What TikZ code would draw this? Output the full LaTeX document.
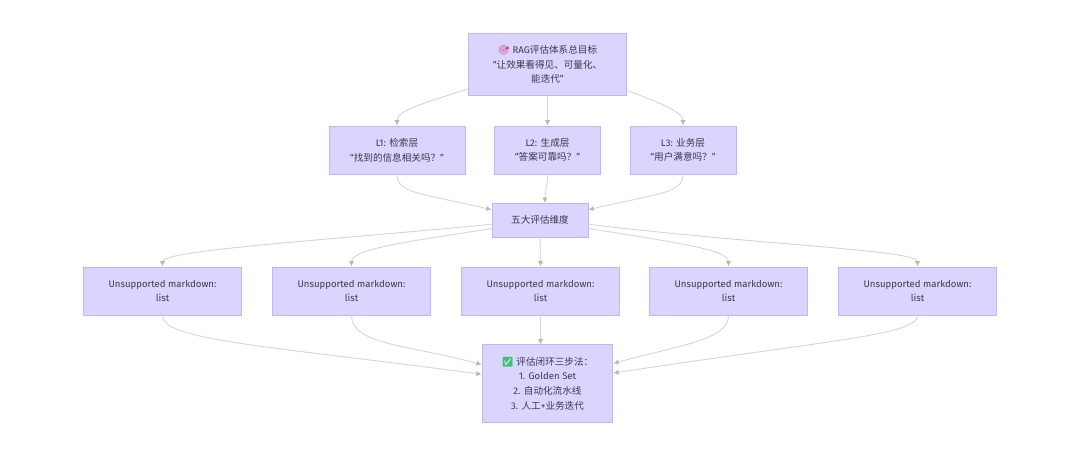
\documentclass[tikz,border=0pt]{standalone}
\usepackage{fontspec}
\setmainfont{Fira Sans}
\newfontfamily\cjk{Noto Sans CJK SC}
\newfontfamily\emoji{Noto Emoji}
\usetikzlibrary{arrows.meta}
\definecolor{boxfill}{HTML}{D9D5FF}
\definecolor{boxline}{HTML}{BDB5FF}
\definecolor{boxtext}{HTML}{3A3A48}
\definecolor{edgeline}{HTML}{D6D6D6}
\definecolor{edgetip}{HTML}{B8B8B8}
\tikzset{
	flowbox/.style={draw=boxline, fill=boxfill, line width=0.7pt, inner sep=0pt, align=center,
		text=boxtext, font=\fontsize{7.2}{11}\selectfont},
	flowedge/.style={draw=edgeline, line width=0.7pt, -{Latex[length=4pt,width=4pt,color=edgetip]}},
}

\begin{document}
\begin{tikzpicture}[x=0.75pt, y=-0.75pt]
			%%%%% START %%%%%
			\useasboundingbox (0, 0) rectangle (1080, 455);
			
			\node[flowbox, minimum width=119pt, minimum height=47pt] (goal) at (547.5, 64.5) {{\emoji\color[HTML]{D6336C}🎯} RAG{\cjk 评估体系总目标}\\“{\cjk 让效果看得见、可量化、}\\{\cjk 能迭代}”};
			
			\node[flowbox, minimum width=102pt, minimum height=36pt] (retrieval) at (397, 150) {L1: {\cjk 检索层}\\“{\cjk 找到的信息相关吗？}”};
			\node[flowbox, minimum width=80pt, minimum height=36pt] (generation) at (547.5, 150) {L2: {\cjk 生成层}\\“{\cjk 答案可靠吗？}”};
			\node[flowbox, minimum width=79.5pt, minimum height=36pt] (business) at (683, 150) {L3: {\cjk 业务层}\\“{\cjk 用户满意吗？}”};
			
			\node[flowbox, minimum width=72pt, minimum height=25.5pt] (dimensions) at (540, 220) {\cjk 五大评估维度};
			
			\node[flowbox, minimum width=119pt, minimum height=36pt] (dimA) at (162.5, 291) {Unsupported markdown:\\list};
			\node[flowbox, minimum width=119pt, minimum height=36pt] (dimB) at (351.5, 291) {Unsupported markdown:\\list};
			\node[flowbox, minimum width=119pt, minimum height=36pt] (dimC) at (540.5, 291) {Unsupported markdown:\\list};
			\node[flowbox, minimum width=119pt, minimum height=36pt] (dimD) at (728.5, 291) {Unsupported markdown:\\list};
			\node[flowbox, minimum width=119pt, minimum height=36pt] (dimE) at (917.5, 291) {Unsupported markdown:\\list};
			
			\node[flowbox, minimum width=98pt, minimum height=58pt] (loop) at (547.5, 383.5) {{\emoji\color[HTML]{3CC46A}✅} {\cjk 评估闭环三步法：}\\1. Golden Set\\2. {\cjk 自动化流水线}\\3. {\cjk 人工}+{\cjk 业务迭代}};
			
			\draw[flowedge] (goal.197) .. controls (425, 103) and (397, 110) .. (retrieval.north);
			\draw[flowedge] (goal.south) -- (goal.south |- generation.north);
			\draw[flowedge] (goal.-18) .. controls (660, 103) and (683, 112) .. (business.north);
			
			\draw[flowedge] (retrieval.south) .. controls (397, 193) and (420, 193) .. (dimensions.168);
			\draw[flowedge] (generation.south) .. controls (547.5, 186) and (545, 192) .. (545, 203);
			\draw[flowedge] (business.south) .. controls (683, 193) and (660, 193) .. (dimensions.12);
			
			\draw[flowedge] (dimensions.185) .. controls (330, 240) and (162.5, 250) .. (dimA.north);
			\draw[flowedge] (dimensions.190) .. controls (420, 240) and (351.5, 248) .. (dimB.north);
			\draw[flowedge] (dimensions.south) -- (dimC.north);
			\draw[flowedge] (dimensions.-10) .. controls (680, 243) and (728.5, 250) .. (dimD.north);
			\draw[flowedge] (dimensions.-5) .. controls (760, 245) and (917.5, 250) .. (dimE.north);
			
			\draw[flowedge] (dimA.south) .. controls (162.5, 340) and (260, 345) .. (loop.172);
			\draw[flowedge] (dimB.south) .. controls (351.5, 345) and (410, 345) .. (loop.164);
			\draw[flowedge] (dimC.south) -- (dimC.south |- loop.north);
			\draw[flowedge] (dimD.south) .. controls (728.5, 340) and (680, 345) .. (loop.17);
			\draw[flowedge] (dimE.south) .. controls (917.5, 335) and (830, 340) .. (loop.9);
			
			%%%%% END %%%%%
		\end{tikzpicture}
\end{document}
